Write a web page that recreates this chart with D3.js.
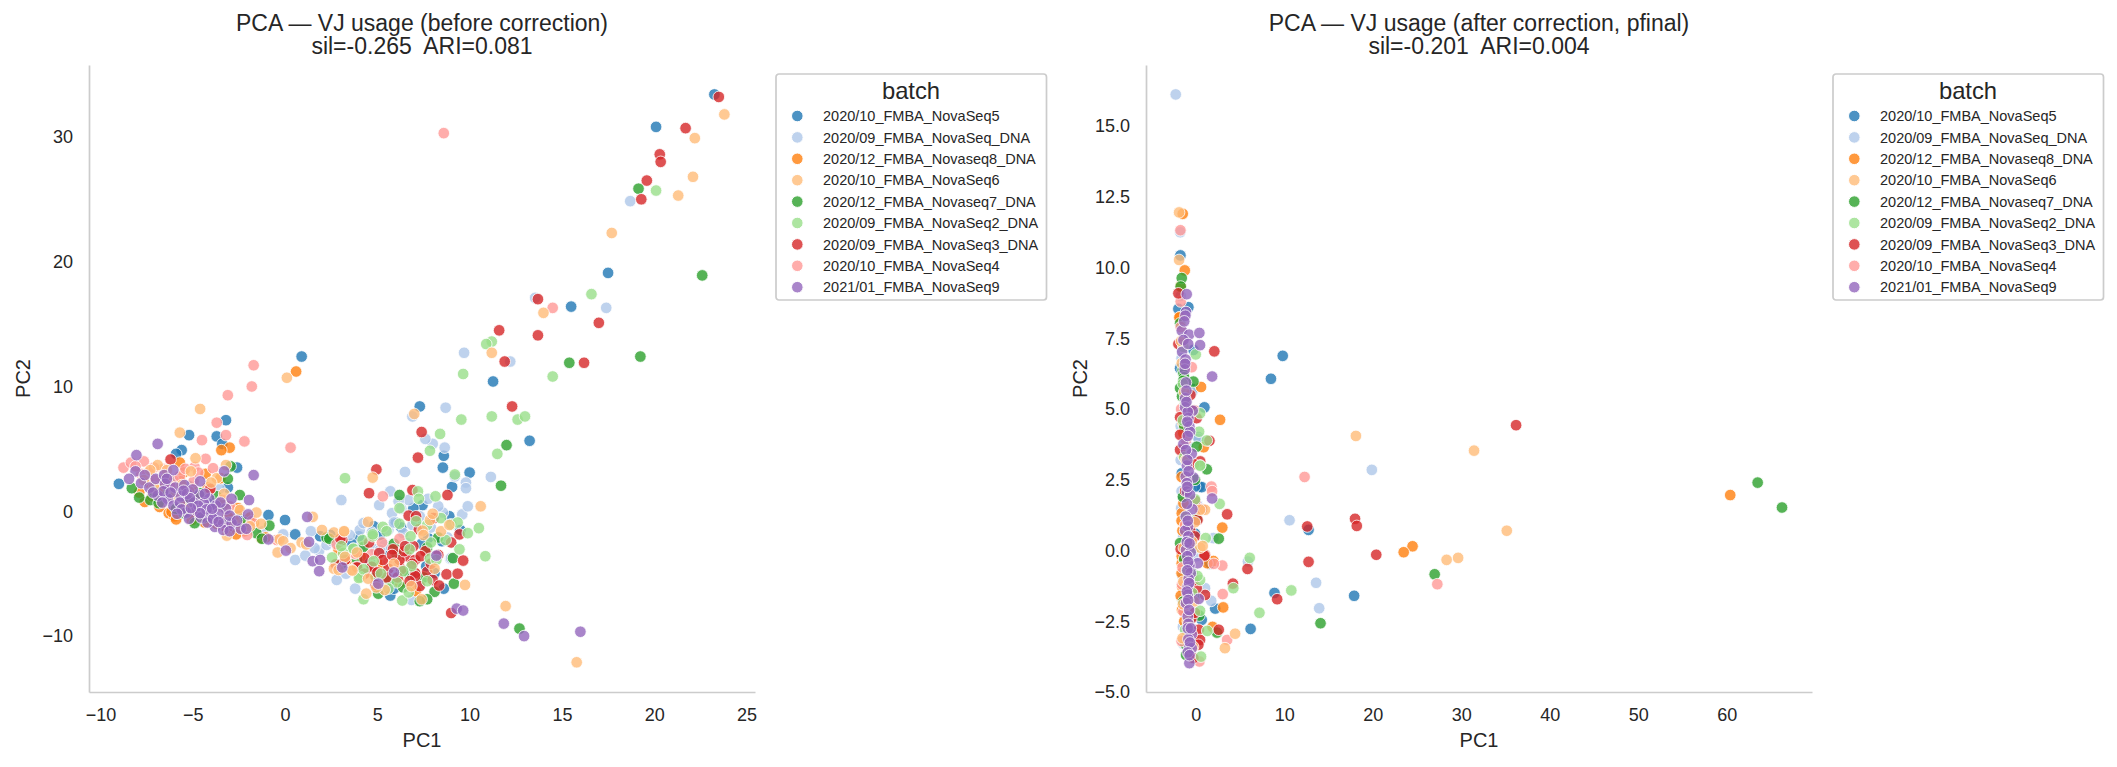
<!DOCTYPE html>
<html>
<head>
<meta charset="utf-8">
<title>PCA of VJ usage</title>
<script src="https://cdn.jsdelivr.net/npm/d3@7/dist/d3.min.js"></script>
<style>
  html, body { margin: 0; padding: 0; background: #fff; }
  svg { display: block; }
  text { font-family: "Liberation Sans", Arial, sans-serif; fill: #262626; white-space: pre; }
</style>
</head>
<body>
<svg id="chart" width="2117" height="767"></svg>
<script>
const batches = [
  "2020/10_FMBA_NovaSeq5", "2020/09_FMBA_NovaSeq_DNA", "2020/12_FMBA_Novaseq8_DNA",
  "2020/10_FMBA_NovaSeq6", "2020/12_FMBA_Novaseq7_DNA", "2020/09_FMBA_NovaSeq2_DNA",
  "2020/09_FMBA_NovaSeq3_DNA", "2020/10_FMBA_NovaSeq4", "2021/01_FMBA_NovaSeq9"
];
const batchColors = ["#1f77b4", "#aec7e8", "#ff7f0e", "#ffbb78", "#2ca02c", "#98df8a", "#d62728", "#ff9896", "#9467bd"];

// Paint order of the batches, back to front.
const paintOrder = [0, 1, 2, 4, 7, 6, 5, 3, 8];

// Scores before correction: [PC1, PC2] per sample.
const beforeNovaSeq5 = [[23.26,33.4],[20.1,30.8],[17.5,19.1],[15.5,16.4],[0.9,12.4],[11.27,10.4],[7.3,8.4],[13.25,5.65],[8.6,4.45],[8.55,3.5],[10,3.1],[9.05,1.95],[7.45,0.5],[6,-0.9],[4,-2],[5.15,-1.9],[8.5,-2.4],[9.5,-1.5],[5.7,-6.75],[8.6,-6.2],[8.1,-4.95],[7.75,-2.15],[7.65,-4.4],[6.95,0.25],[4.8,-1.2],[2.45,-1.9],[1.9,-2],[-3.2,7.3],[-5.2,6.1],[-3.7,6],[-3.4,5.4],[-5.6,4.9],[-5.9,4.6],[-9,2.2],[-2.6,3.5],[-3.1,1.9],[-5.2,2],[-0.9,-0.3],[0,-0.7],[0.55,-1.85],[-4.8,1.1],[-6.1,2.4],[-3.9,0.6],[-2.5,-0.4],[5.3,-3.2],[6.8,-5.1],[3.6,-2.6],[7.1,-0.9],[6.3,-1.3],[8.9,-0.4],[4.6,-4.1],[5.9,-6.2],[7.4,-2.6]];
const beforeNovaSeqDna = [[18.7,24.85],[13.55,17.1],[17.4,16.3],[9.7,12.7],[12.2,12],[8,5.4],[8.65,5.1],[6.5,3.15],[9.2,2.8],[9.8,2.3],[9.8,1.85],[11.15,2.75],[5.7,1.6],[6.7,0.9],[7.75,1],[3.05,0.9],[5.8,-0.15],[9.6,-0.25],[8.55,-0.1],[8.95,-3.8],[6.85,-7.1],[5.6,-1.5],[6.4,-1.75],[4.05,-1.5],[-3.55,1.8],[-4.55,-0.8],[-0.1,-1.85],[0.55,-3.9],[1.1,-3.55],[1.85,-3.15],[2.8,-5.5],[3.3,-5],[2.25,-2.7],[4.25,-0.95],[6.15,0.8],[7.3,-0.4],[4.9,-3.05],[5.4,-2.7],[6.6,-2.55],[9,-3.75],[1.6,-2.95],[2.55,-2.4],[3.5,-1.9],[5.15,-3.1],[3.35,-4.4],[4.05,-2.95],[9.9,0.4],[8.7,8.3],[7.6,5.8],[6.9,7.6],[-1.2,-1.6],[3.8,-6.2],[6.1,-5.2],[7.3,-5.9],[1.4,-1.6],[4.7,-1.7],[5.9,-0.9],[6.9,-1.1],[7.9,-1.3],[8.3,0.4],[8.8,-2.1],[6.3,0.2],[5.1,0.5]];
const beforeNovaseq8 = [[0.6,11.2],[-3,5.1],[-3.45,4.9],[-5.7,3.9],[-5.5,3.1],[-4.3,3],[-7.6,0.75],[-6.8,0.35],[-6.3,-0.15],[-6,-0.4],[-1.7,-0.95],[-2.8,-0.65],[-7.2,1.2],[-6.75,1.75],[-3.5,0.4],[-1.3,-2.15],[-4.7,1.2],[-3.5,2.65],[-2.55,0.25],[-5.4,0.5],[-4.9,-0.35],[-3.7,-1],[-2.4,-1.1],[-7.9,1.5],[-6.5,2.6],[-5,1.8],[-3.1,-0.4],[-1.9,-0.5],[-2.2,-1.6],[-1.05,-2.1],[-6.15,-0.05],[-4.2,1.9],[-5.65,2.4],[2.9,-3.1],[4.1,-3.6],[5.2,-4.3],[3.35,-3.9],[-7.4,2.3],[-5.9,-0.65],[-4.35,-0.9],[-2.65,-1.85],[-5.05,-0.7],[6.2,-5.7],[7.1,-6.4]];
const beforeNovaSeq6 = [[23.8,31.8],[22.2,29.9],[22.1,26.8],[21.3,25.3],[17.7,22.3],[14,15.9],[11.2,12.7],[0.1,10.7],[-4.6,8.2],[-5.7,6.3],[-6.9,3.7],[-4.85,4.25],[-3.2,3.7],[-3.7,2.65],[-3.15,-1.95],[-1.55,-0.1],[-2.45,0.1],[-7.65,2.5],[-6.4,3.3],[-0.3,-2.25],[-0.1,-2.4],[-0.4,-3.3],[0.3,-2.95],[0.9,-2.5],[1.5,-0.45],[2,-1.5],[2.65,-1.7],[3.2,-1.6],[2.65,-4.6],[3.25,-3.65],[3.6,-4.7],[2.9,-4.7],[4.5,-5.4],[4.4,-6.6],[5.4,-6.3],[4.5,-0.85],[1.15,-2.65],[4.75,2.7],[10.6,0.4],[7.85,-0.7],[11.95,-7.6],[15.8,-12.1],[9.75,-5.9],[7.45,-1.55],[8.1,-4.6],[7.4,-7.05],[6.85,-6],[3.2,-1.6],[3.65,-4.75],[8.45,-1.6],[-2.7,-0.8],[-5.6,2.1],[-7.1,1.9],[-4,2.3],[8.9,-1.1],[7,7.8],[5.9,-4.2],[-1.3,-1.0],[-3.3,1.4],[-5.1,3.2],[-7.3,3.3],[-6,1.2],[-1.9,-1.2],[3.9,-3.3],[4.95,-6.1],[7.5,-1.9],[8,-0.2]];
const beforeNovaseq7 = [[19.15,25.85],[22.6,18.9],[19.25,12.4],[15.4,11.9],[11.7,2.05],[6.2,1.3],[7.7,-2.9],[9.1,-3.75],[9.15,-5.8],[5.65,-5.55],[3.9,-3.85],[8.1,-6.45],[7.7,-7.05],[7.3,-7.2],[6.05,-3.5],[12.7,-9.4],[-2.95,3.6],[-3.1,2.6],[-2.45,1.3],[-0.85,-1.15],[-1.55,-1.75],[-1.25,-2.2],[-8.3,1.85],[-7.3,0.9],[-6.85,0.65],[-5.5,-0.15],[-3.7,1.2],[2.25,-2.1],[-4.6,1.45],[2.4,-2.2],[3.05,-4.25],[4.25,-2.85],[-7.9,1.1],[-5.9,0.2],[-4.4,-0.5],[-3,-0.9],[-6.3,1.5],[4.9,-5.2],[6.4,-6.1],[5.05,-6.6],[6.6,-4.9],[12,5.3],[-3.3,0.6],[-5.1,0.9],[-7.1,1.6],[-2.2,-0.9],[-4.9,-0.95],[7.5,-5.3],[5.9,-2.6],[8.3,-2.1]];
const beforeNovaSeq2 = [[20.1,25.7],[16.6,17.4],[11.2,13.6],[10.9,13.4],[9.65,11],[14.5,10.8],[9.55,7.35],[12.6,7.35],[13,7.6],[11.2,7.6],[8.4,6.2],[7.85,4.85],[11.5,4.6],[3.25,2.65],[9.2,2.95],[7.2,1.6],[7.25,1],[8.15,1.2],[6.2,0.25],[8.45,-0.55],[9,-1.05],[9.35,-0.9],[10.5,-1.35],[9.9,-1.75],[9.45,-3.05],[10.85,-3.6],[7.85,-3.8],[6.35,-7.15],[6.05,-5.7],[4.25,-7.05],[4.05,-5.25],[3.7,-3],[4.2,-2.3],[4.75,-2],[5.3,-1.25],[6.8,-2],[6.75,-3.05],[6.85,-4.4],[6.7,-6.5],[2.55,-3.7],[3.7,-3],[3.15,-3.35],[4,-5.35],[4.25,-4.65],[4.75,-1.85],[5.5,-1.6],[7.7,-1.1],[8.7,-2.3],[5.2,-5],[7.7,-5.6],[6.2,-1],[7.1,-0.8],[7.9,-2.5],[5.6,-6.2],[6.4,-4.8],[4.8,-4],[3.05,-2.8],[8.2,-3.9]];
const beforeNovaSeq3 = [[23.5,33.2],[21.7,30.7],[20.3,28.6],[20.35,28],[19.6,26.5],[19.3,25],[17,15.1],[13.7,17],[11.6,14.5],[13.7,14.1],[11.9,12],[16.2,11.9],[12.3,8.4],[7.4,6.35],[7.2,4.3],[4.95,3.35],[4.55,1.45],[6.9,1.7],[8.8,1.3],[6.7,-0.35],[7.1,-0.4],[8.05,-0.55],[9.45,-1.85],[9,-2.5],[9.65,-3.95],[8.75,-5.05],[9.35,-5],[9,-8.15],[7.7,-4.85],[7.05,-4.95],[8,-5.5],[8.35,-5.95],[4.9,-5.9],[3.9,-4.45],[4.7,-4.4],[4.55,-2.5],[5.1,-3.35],[5.85,-3.05],[6.6,-3.6],[7.05,-3.9],[3.1,-2.3],[7.25,-1.45],[6.95,-2.8],[7.3,-6],[7.05,-5.2],[6.3,-4.65],[3,-2.2],[3.9,-4.5],[4.7,-4.45],[2.75,-4.25],[3.25,-3.9],[4.3,-3.75],[-6.2,4.15],[-4.05,1.8],[-3.15,-1.35],[5.6,-4.6],[6.2,-3.9],[7.6,-3.2],[8.3,-3.5],[5.5,-5.3],[6.9,-4.2],[6.45,-3.2],[7.35,-3.6],[5.3,-3.9],[6.1,-5.3],[7.9,-4.2],[6.75,-5.6],[4.3,-5],[5,-4.9],[6.5,-2.8],[5.8,-3.5]];
const beforeNovaSeq4 = [[8.6,30.3],[14.5,16.3],[-1.7,11.7],[-1.8,10],[-3.1,9.3],[-3.7,7.1],[-3.2,6.1],[-4.5,5.7],[-2.2,5.6],[0.3,5.1],[-8.75,3.5],[-8.35,3.9],[-7.65,4],[-7.4,3.1],[-4.9,3.55],[-4.3,4.2],[-3.9,3.45],[-7.05,2.5],[-6.05,2.5],[-5.7,2.8],[-1.8,-0.8],[-2.05,-1.9],[-4.95,2.4],[-4.1,1.7],[5.3,1.2],[5.25,-2.5],[3.75,-3.35],[5.6,-4.05],[6.2,-2.2],[2.8,-2.65],[4.7,-3.45],[-0.45,-2.3],[3.8,-3.4],[6.15,-4.1],[-5.2,1.6],[-7.8,3],[-3.4,0.9],[-6.6,3.4],[-6.2,2],[-4.7,3.1],[-5.4,3.4],[-3,0.4],[-8.1,3.6],[-7.1,3.5]];
const beforeNovaSeq9 = [[-6.9,5.4],[-8.05,4.5],[-8.1,3.2],[-8.45,2.6],[-7.8,2.25],[-7.35,1.9],[-7,2.6],[-6.55,2.9],[-6.05,3.3],[-6.5,2.2],[-6.9,1.25],[-5.95,1.9],[-5.45,2.1],[-4.6,2.4],[-3.3,3.2],[-1.7,2.9],[-1.95,0.9],[-2.9,1],[-4.65,1.3],[-5.65,1.2],[-6.35,1],[-6.05,0.45],[-5.7,0.7],[-4.1,1],[-4.95,0.7],[-3.75,0.45],[-4.4,0.65],[-4.8,0.05],[-3.2,0.2],[-4.55,-0.5],[-4.05,-0.35],[-3.8,-1.25],[-3.35,-0.9],[-2.9,-0.95],[-2.4,-1.4],[-2.1,-1.4],[-2,-0.25],[-3.35,-1.5],[-4.2,-0.9],[-5.35,-0.1],[-0.9,-2.25],[1.2,-0.45],[0.05,-3.15],[1.3,-2.45],[1.5,-4],[1.9,-3.9],[1.85,-4.8],[3.1,-4.5],[5.9,-4.9],[5.05,-5.8],[8.2,-3.55],[9.3,-7.8],[9.65,-7.95],[11.85,-9],[12.95,-10],[16,-9.65],[-5.3,1.4],[-6.6,1.6],[-5,1.75],[-3.6,-0.2],[-5.2,-0.6],[-7.6,2.9],[-7.15,1.5],[-6.2,1.5],[-6.4,2.6],[-5.6,0.15],[-5.15,1.05],[-5.85,-0.2],[-4.7,0.45],[-4.25,0.15],[-3.5,0.7],[-3.9,-0.6],[-3,-0.35],[-4.6,-0.15],[-3.6,-0.85],[-2.6,-0.75],[-3,-1.6],[-5.1,0.25],[-4.35,1.4],[-6.65,0.7],[-5.5,1.65],[-3.95,0.2]];

// Scores after correction: [PC1, PC2] per sample.
const afterNovaSeq5 = [[12.75,0.73],[17.9,-1.6],[8.9,-1.5],[6.2,-2.77],[2.2,-2.05],[1.55,-0.47],[0.4,2.26],[0.98,5.06],[9.83,6.88],[8.5,6.07],[-1.73,10.43],[-0.83,8.6],[-1.96,8.54],[-1.77,6.44],[-0.38,5.71],[0.68,2.24],[-0.26,7.09],[-0.08,2.26],[-1.58,2.73],[0.68,-2.45],[1.62,-0.45],[-1.2,4.4],[-1.3,-0.9],[-0.6,-2.4],[-1.4,1.9],[0.3,4],[-0.1,0.6]];
const afterNovaSeqDna = [[-2.26,16.12],[-1.75,11.25],[19.9,2.85],[10.6,1.07],[13.6,-1.14],[13.95,-2.04],[5.9,-0.39],[1.75,-1.78],[2,0.44],[1.05,-1.33],[0.11,-3.27],[-1.7,9.0],[-1.55,7.1],[-1.3,4.9],[-0.9,3.7],[-1.6,2.1],[-1.4,0.5],[-1.5,-0.9],[-1.2,-2.1],[-1.4,-3.3],[0.3,3.95],[-0.4,5.6],[-1.6,6.8],[-1.7,4.4],[-1.65,1.5],[-1.55,-1.7],[-1.45,-2.7],[0.1,-0.2],[0.2,1.6],[-1.7,3.2]];
const afterNovaseq8 = [[24.5,0.15],[23.5,-0.06],[60.4,1.96],[-1.47,11.9],[-1.24,9.9],[-1.7,9.36],[-1.77,8.24],[-1.85,8.24],[1.9,-2.7],[3,0.81],[2,-0.37],[3.1,-2.01],[0.9,3.65],[2.75,4.62],[0.6,5.78],[-1.39,3.35],[-1.4,4.15],[-1.58,1.32],[-1.39,1.67],[-1.58,-0.45],[-1.2,-3.16],[-1.58,-0.2],[1.32,-0.45],[-1.5,-1.3],[-1.3,-2.5],[-1.2,5.3],[-1.5,0.7],[-1.6,2.6],[-1.7,-1.6],[-1.6,-0.8],[-1.45,4.5],[-1.55,-2.1],[-1.6,1.05]];
const afterNovaSeq6 = [[31.45,3.53],[35.15,0.7],[29.65,-0.26],[28.35,-0.33],[18.1,4.05],[4.45,-2.94],[3.3,-3.45],[-1.88,11.95],[-1.88,10.27],[-1.58,6.62],[0.5,0.1],[1.05,1.44],[0.79,0.16],[0.49,1.44],[-0.45,0.32],[-1,2.5],[-1.5,-3.1],[-1.4,-1.1],[-1.3,5.6],[-1.1,3.2],[-0.9,-2.5],[-1.65,7.4],[-1.45,-1.9],[-1.35,0.1],[-0.1,1],[-0.2,-1.8],[-0.3,-3.4]];
const afterNovaseq7 = [[63.5,2.4],[66.25,1.52],[27,-0.84],[14.1,-2.57],[2.4,-2.9],[1.25,2.87],[2.6,0.42],[-1.58,9.63],[-1.7,9.33],[-1.77,8.03],[-1.47,6.38],[-1.39,6.24],[-1.32,6.12],[-1.4,6],[-0.26,5.97],[-1.77,5.74],[0.11,3.67],[-1.77,0.26],[-1.09,-3.69],[-0.08,2.5],[0.4,-2.3],[-1.3,4.4],[-1.4,-1.8],[-1.45,1.9],[-0.4,-0.8],[-1.55,5.45],[-1.3,-0.3],[0.1,1.1],[-0.1,-1.6],[-1.2,-3.3]];
const afterNovaSeq2 = [[10.8,-1.41],[7.2,-2.2],[4.25,-1.33],[6.1,-0.26],[1.3,-2.84],[1.13,0.44],[0.5,3],[2.7,1.65],[1.25,3.89],[0.38,4.2],[0,6.93],[0.49,4.85],[0.49,3],[-0.08,1.81],[0.49,-1.04],[0.49,-2.13],[0.6,-3.75],[-1.4,7.2],[-1.2,5.2],[-1.1,1.2],[-1,-0.7],[-1.2,-2.8],[-0.4,-1.5],[-1.45,4.6],[-1.3,3.3],[-0.1,0.1],[0.2,-0.9],[-1.45,5.9]];
const afterNovaSeq3 = [[36.2,4.43],[18,1.12],[18.2,0.87],[12.6,0.85],[20.4,-0.15],[12.75,-0.4],[9.2,-1.72],[2.6,-2.8],[4.2,-1.17],[5.85,-0.65],[3.55,1.28],[0.7,1.46],[0.2,1.08],[0.5,3.15],[1.55,3.88],[2.1,7.04],[1.05,-0.15],[-1.96,9.09],[-1.96,7.3],[-1.77,4.71],[0.11,4.68],[-1.77,4.09],[-1.77,3.56],[0.98,-0.18],[1.05,-1.57],[0.11,-1.33],[0.34,-2.8],[0.49,-3.16],[0.3,-3.33],[-0.26,-3.8],[-0.64,0.73],[-0.5,-2.4],[-1.2,2.1],[-0.3,0.2],[-0.6,5.5],[-0.1,0.5],[-0.05,1.75],[-0.2,-1.05],[-1.7,0.05],[-0.1,-2.2],[-0.2,4.95],[-0.2,3.05]];
const afterNovaSeq4 = [[27.3,-1.19],[12.3,2.6],[3.55,-3.16],[3.05,-1.54],[3,-0.53],[2.05,-0.47],[1.77,2.26],[1.85,2.1],[-1.73,11.32],[-1.7,8.8],[-0.45,6.48],[0.41,-3.92],[0.11,-2.96],[-1.39,-2.15],[-1.7,7.9],[-1.2,0.9],[-1.1,3.9],[-1.5,-0.6],[-1.65,5.0],[-1.6,-3.2],[-1.55,-1.2],[-0.2,-3.05]];
const afterNovaSeq9 = [[-1.02,9.06],[-1.1,8.43],[-1.17,8.3],[-1.58,7.77],[-0.75,7.63],[0.41,7.69],[-1.39,7.44],[0.49,7.26],[-1.54,7.02],[1.85,6.15],[-1.1,5.94],[-1.2,5.38],[-1.2,5.06],[-0.34,4.94],[-0.83,4.68],[-0.72,4.38],[-0.64,4.2],[-1.4,3.76],[-0.45,3.42],[-1,3],[-0.26,2.58],[-1.13,2.61],[-1,2.38],[-1,2.08],[-0.64,1.97],[1.85,1.84],[-0.38,1.46],[-1.13,1.2],[-0.87,0.85],[-1.2,0.7],[-0.83,0.5],[-1.1,0.02],[-0.56,-0.06],[0.23,-0.45],[-0.72,-0.53],[-0.56,-0.8],[-0.9,-1.27],[-0.9,-1.57],[0.34,-1.71],[-1.1,-1.86],[-0.9,-2.33],[-0.83,-2.59],[-0.45,-2.96],[-0.83,-3.13],[-0.72,-3.43],[-0.45,-3.45],[-0.72,-3.98],[-1.05,5.65],[-0.9,4.9],[-0.95,-0.2],[-0.8,-1],[-1.3,8.1],[-1.15,6.75],[-1.25,6.4],[-1.05,5.25],[-0.95,4.55],[-0.9,4.05],[-1.1,3.55],[-0.95,3.2],[-0.8,2.8],[-0.95,2.25],[-1,1.65],[-0.9,1.05],[-1,0.3],[-0.7,0.25],[-0.85,-0.4],[-0.95,-0.7],[-0.75,-1.15],[-1,-1.45],[-0.85,-1.75],[-0.75,-2.1],[-0.9,-2.75],[-0.65,-3.25],[-0.9,-3.6],[-0.55,-2.75],[-0.7,-3.7],[-1.2,6.6],[-0.85,7.3]];

const beforeScores = [beforeNovaSeq5, beforeNovaSeqDna, beforeNovaseq8, beforeNovaSeq6, beforeNovaseq7, beforeNovaSeq2, beforeNovaSeq3, beforeNovaSeq4, beforeNovaSeq9];
const afterScores = [afterNovaSeq5, afterNovaSeqDna, afterNovaseq8, afterNovaSeq6, afterNovaseq7, afterNovaSeq2, afterNovaSeq3, afterNovaSeq4, afterNovaSeq9];

const beforeXTicks = [-10, -5, 0, 5, 10, 15, 20, 25];
const beforeYTicks = [-10, 0, 10, 20, 30];
const afterXTicks = [0, 10, 20, 30, 40, 50, 60];
const afterYTicks = [-5, -2.5, 0, 2.5, 5, 7.5, 10, 12.5, 15];

const panels = [
  { scores: beforeScores, title: ["PCA — VJ usage (before correction)", "sil=-0.265  ARI=0.081"],
    left: 89, right: 755, xDomain: [-10.62, 25.46], yDomain: [-14.48, 35.76],
    xTicks: beforeXTicks, yTicks: beforeYTicks, yFormat: d3.format("d"), legendX: 776 },
  { scores: afterScores, title: ["PCA — VJ usage (after correction, pfinal)", "sil=-0.201  ARI=0.004"],
    left: 1146, right: 1812, xDomain: [-5.62, 69.64], yDomain: [-5, 17.16],
    xTicks: afterXTicks, yTicks: afterYTicks, yFormat: d3.format(".1f"), legendX: 1833 }
];

const plotTop = 65, plotBottom = 692;
const svg = d3.select("#chart");
const markerRadius = 5.8;

panels.forEach(p => {
  const x = d3.scaleLinear().domain(p.xDomain).range([p.left, p.right]);
  const y = d3.scaleLinear().domain(p.yDomain).range([plotBottom, plotTop]);
  const g = svg.append("g");

  // Axes: spines on the left and bottom only, no tick marks.
  const xAxis = g.append("g").attr("transform", `translate(0,${plotBottom})`)
    .call(d3.axisBottom(x).tickValues(p.xTicks).tickSize(0).tickPadding(16));
  const yAxis = g.append("g").attr("transform", `translate(${p.left},0)`)
    .call(d3.axisLeft(y).tickValues(p.yTicks).tickFormat(p.yFormat).tickSize(0).tickPadding(16));
  [xAxis, yAxis].forEach(a => {
    a.select(".domain").attr("stroke", "#cccccc").attr("stroke-width", 1.7);
    a.selectAll("text").attr("font-size", 18).style("font-family", '"Liberation Sans", Arial, sans-serif').attr("fill", "#262626");
  });

  // One group of points per batch.
  paintOrder.forEach(i => {
    g.append("g").selectAll("circle").data(p.scores[i]).join("circle")
      .attr("cx", d => x(d[0])).attr("cy", d => y(d[1])).attr("r", markerRadius)
      .attr("fill", batchColors[i]).attr("fill-opacity", 0.8)
      .attr("stroke", "#fff").attr("stroke-opacity", 0.8).attr("stroke-width", 1);
  });

  const midX = (p.left + p.right) / 2;
  g.append("text").attr("x", midX).attr("y", 31).attr("text-anchor", "middle").attr("font-size", 23).text(p.title[0]);
  g.append("text").attr("x", midX).attr("y", 54).attr("text-anchor", "middle").attr("font-size", 23).text(p.title[1]);

  g.append("text").attr("x", midX).attr("y", 747).attr("text-anchor", "middle").attr("font-size", 20).text("PC1");
  g.append("text").attr("transform", `translate(${p.left - 59},378.5) rotate(-90)`)
    .attr("text-anchor", "middle").attr("font-size", 20).text("PC2");

  // Legend box to the right of the axes.
  const legend = g.append("g").attr("transform", `translate(${p.legendX},74)`);
  legend.append("rect").attr("width", 270.5).attr("height", 226).attr("rx", 3)
    .attr("fill", "#fff").attr("stroke", "#cccccc").attr("stroke-width", 1.7);
  legend.append("text").attr("x", 135).attr("y", 24.5).attr("text-anchor", "middle").attr("font-size", 23.8).text("batch");
  batches.forEach((name, i) => {
    const rowY = 42 + i * 21.4;
    legend.append("circle").attr("cx", 21.3).attr("cy", rowY).attr("r", markerRadius)
      .attr("fill", batchColors[i]).attr("fill-opacity", 0.8).attr("stroke", "#fff").attr("stroke-width", 1);
    legend.append("text").attr("x", 47).attr("y", rowY).attr("dy", "0.36em").attr("font-size", 14.5).text(name);
  });
});
</script>
</body>
</html>
